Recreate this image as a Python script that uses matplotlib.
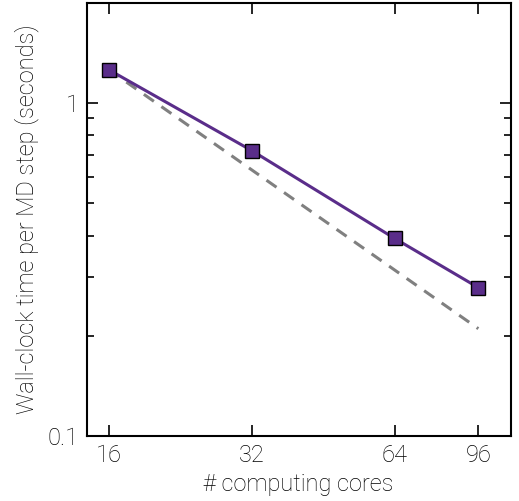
import matplotlib.pyplot as plt
from matplotlib.ticker import FixedLocator, NullFormatter, NullLocator, LogLocator

cores = [16, 32, 64, 96]
wall_time = [1.26, 0.72, 0.392, 0.279]
ideal_time = [1.26, 0.63, 0.315, 0.21]

plt.rcParams['font.family'] = ['Roboto', 'DejaVu Sans']
plt.rcParams['font.weight'] = 'light'
plt.rcParams['axes.labelweight'] = 'light'
plt.rcParams.update({'font.size': 17})

fig = plt.figure(figsize=(5.19, 5.01), dpi=100)
ax = fig.add_axes([0.167, 0.130, 0.817, 0.864])

ax.plot(cores, ideal_time, '--', color='#808080', lw=2.2, dashes=(4, 3))
ax.plot(cores, wall_time, '-s', color='#5a2d8a', lw=2.2, ms=10,
        mec='black', mew=1.0)

ax.set_xscale('log')
ax.set_yscale('log')
ax.set_xlim(14.37, 112.3)
ax.set_ylim(0.1, 2.0)

ax.xaxis.set_major_locator(FixedLocator(cores))
ax.xaxis.set_minor_locator(NullLocator())
ax.set_xticklabels([str(c) for c in cores])
ax.yaxis.set_major_locator(FixedLocator([0.1, 1]))
ax.set_yticklabels(['0.1', '1'])
ax.yaxis.set_minor_locator(LogLocator(base=10, subs=range(2, 10)))
ax.yaxis.set_minor_formatter(NullFormatter())

ax.tick_params(which='both', direction='in', top=True, right=True, width=1.2)
ax.tick_params(which='major', length=8, pad=6)
ax.tick_params(which='minor', length=5)
for s in ax.spines.values():
    s.set_linewidth(1.5)

ax.set_xlabel('# computing cores', labelpad=4)
ax.set_ylabel('Wall-clock time per MD step (seconds)', labelpad=6)

fig.savefig('out.png', dpi=100)
